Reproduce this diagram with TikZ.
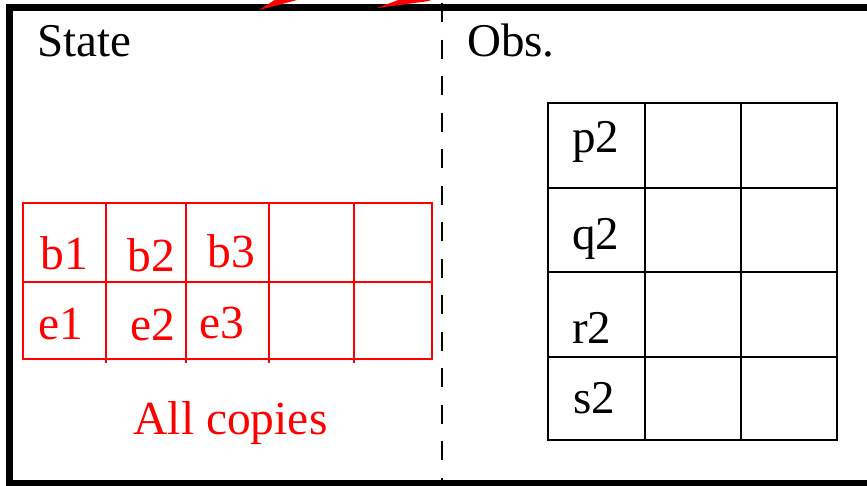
\documentclass[tikz,border=0pt]{standalone}
\usepackage{fontspec}
\setmainfont{Liberation Serif}
\usetikzlibrary{arrows.meta}
\begin{document}
\begin{tikzpicture}[x=1pt,y=-1pt,
  frame/.style={draw=black, line width=7pt},
  divider/.style={draw=black, line width=2pt, dash pattern=on 19pt off 17.5pt},
  redgrid/.style={draw=red, line width=2pt},
  blackgrid/.style={draw=black, line width=2.2pt},
  redlbl/.style={text=red, font=\fontsize{47.5}{52}\selectfont, inner sep=0pt, anchor=base},
  head/.style={font=\fontsize{47}{52}\selectfont, inner sep=0pt, anchor=base west},
  cell/.style={font=\fontsize{47}{52}\selectfont, inner sep=0pt, anchor=base west},
  inarrow/.style={draw=red, fill=red, line width=3pt}]
\useasboundingbox (0,0) rectangle (867,485);
\clip (0,0) rectangle (867,485);
% divider
\draw[divider] (442,3) -- (442,484);
% outer frame
\draw[frame] (9.5,7.5) rectangle (900,483.5);
% incoming red arrows (from outside the picture)
\coordinate (srcA) at (350,-30);
\coordinate (tipA) at (258,10.5);
\coordinate (srcB) at (569,-40);
\coordinate (tipB) at (375,8.5);
\draw[inarrow, -{Triangle[length=42pt,width=12pt]}] (srcA) -- (tipA);
\draw[inarrow, -{Triangle[length=55pt,width=11pt]}] (srcB) -- (tipB);
% headings
\node[head] (state) at (37,56) {State};
\node[head] (obs) at (467,56) {Obs.};
% red grid
\draw[redgrid] (23,203) rectangle (432,359);
\draw[redgrid] (23,282) -- (432,282);
\foreach \cx in {106,186,269,354} {\draw[redgrid] (\cx,203) -- (\cx,363);}
\node[redlbl] (b1) at (64,269) {b1};
\node[redlbl] (b2) at (151.5,271.5) {b2};
\node[redlbl] (b3) at (231,267) {b3};
\node[redlbl] (e1) at (61,339) {e1};
\node[redlbl] (e2) at (153,340.5) {e2};
\node[redlbl] (e3) at (221.5,338) {e3};
\node[redlbl] (all) at (230.5,434) {All copies};
% black grid
\draw[blackgrid] (548,103) rectangle (837,440);
\foreach \ry in {188,272,357} {\draw[blackgrid] (548,\ry) -- (837,\ry);}
\foreach \cx in {645,741} {\draw[blackgrid] (\cx,103) -- (\cx,440);}
\node[cell] (p2) at (572,152) {p2};
\node[cell] (q2) at (572,249) {q2};
\node[cell] (r2) at (572,343) {r2};
\node[cell] (s2) at (573,413) {s2};
\end{tikzpicture}
\end{document}
